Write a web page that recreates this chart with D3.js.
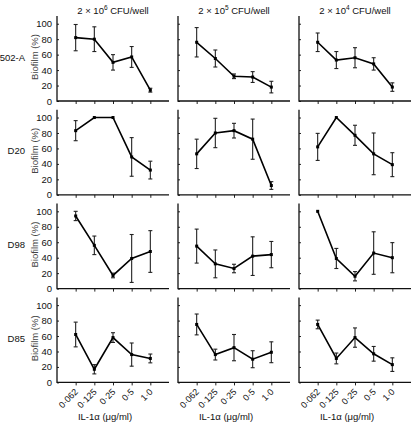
<!DOCTYPE html>
<html><head><meta charset="utf-8">
<script src="https://cdn.jsdelivr.net/npm/d3@7"></script>
<style>body{margin:0;background:#fff}svg{display:block}text{font-family:"Liberation Sans",Arial,Helvetica,sans-serif}</style>
</head><body><svg id="c" width="412" height="423"></svg>
<script>
const doses = ["0·062", "0·125", "0·25", "0·5", "1·0"];
const strains = ["502-A", "D20", "D98", "D85"];
const inoculumExp = ["6", "5", "4"];
const yTicks = [0, 20, 40, 60, 80, 100];

// means per strain: one array per inoculum column (10^6, 10^5, 10^4)
const mean502A = [[82, 80, 50, 57, 14], [76, 55, 32, 31, 18], [76, 53, 56, 48, 18]];
const err502A  = [[17, 16, 10, 13.5, 2.5], [19, 11, 3, 7, 7.5], [12, 11, 13, 8, 5.5]];
const meanD20  = [[83, 100, 100, 49, 32], [53, 80, 83, 72, 12], [62, 100, 77, 53, 39]];
const errD20   = [[13, 0, 0, 25, 11.5], [19, 19, 9.5, 26, 5], [17.5, 0, 13, 27, 15.5]];
const meanD98  = [[94, 56, 17, 39, 48], [55, 32, 26, 42, 44], [100, 39, 16, 46, 40]];
const errD98   = [[6, 12, 3, 31, 27], [22, 18, 5.5, 25, 17], [0, 13, 6, 27.5, 19.5]];
const meanD85  = [[62, 17, 58, 36, 31], [75, 36, 45, 30, 39], [75, 31, 58, 37, 23]];
const errD85   = [[16, 6, 6.3, 15, 5.7], [13.5, 7, 17, 11, 13.5], [5.6, 7, 12.5, 9.5, 8.8]];

const means = [mean502A, meanD20, meanD98, meanD85];
const errs = [err502A, errD20, errD98, errD85];

const FONT = "Liberation Sans, Arial, Helvetica, sans-serif";
const svg = d3.select("#c");
const colX = [57, 178, 299];
const panelW = 112;
const rowBottom = [101, 194.8, 288.6, 382.4];
const panelH = 85;

// column titles
inoculumExp.forEach((e, c) => {
  const t = svg.append("text").attr("x", colX[c] + panelW / 2).attr("y", 14)
    .attr("text-anchor", "middle").attr("font-size", 9.5).attr("fill", "#111").attr("font-family", FONT);
  t.append("tspan").text("2 × 10");
  t.append("tspan").attr("font-size", 6.5).attr("dy", -4).text(e);
  t.append("tspan").attr("dy", 4).text(" CFU/well");
});

strains.forEach((s, r) => {
  const y = d3.scaleLinear().domain([0, 110]).range([rowBottom[r], rowBottom[r] - panelH]);
  const midY = rowBottom[r] - 44;
  svg.append("text").attr("x", 25).attr("y", midY + 3.5).attr("text-anchor", "end")
    .attr("font-size", 9.5).attr("fill", "#111").attr("font-family", FONT).text(s);
  svg.append("text").attr("transform", `translate(38,${midY}) rotate(-90)`)
    .attr("text-anchor", "middle").attr("font-size", 9.5).attr("fill", "#444")
    .attr("font-family", FONT).text("Biofilm (%)");

  inoculumExp.forEach((e, c) => {
    const x = d3.scalePoint().domain(doses).range([colX[c], colX[c] + panelW]).padding(1);
    const g = svg.append("g");
    // y axis
    const ya = d3.axisLeft(y).tickValues(yTicks).tickSize(-2).tickPadding(5)
      .tickFormat(c === 0 ? d3.format("d") : () => "");
    const yg = g.append("g").attr("transform", `translate(${colX[c]},0)`).call(ya)
      .attr("font-family", FONT);
    yg.select(".domain").remove();
    yg.selectAll("text").attr("font-size", 9.5).attr("fill", "#111");
    yg.selectAll("line").attr("stroke", "#222");
    // x axis (ticks only, labels drawn separately)
    const xa = d3.axisBottom(x).tickSize(3).tickFormat(() => "");
    const xg = g.append("g").attr("transform", `translate(0,${rowBottom[r]})`).call(xa);
    xg.select(".domain").remove();
    xg.selectAll("line").attr("stroke", "#222");
    if (r === 3) {
      g.selectAll("text.xl").data(doses).enter().append("text")
        .attr("class", "xl")
        .attr("transform", d => `translate(${x(d) + 3},${rowBottom[r] + 10}) rotate(-45)`)
        .attr("text-anchor", "end").attr("font-size", 9).attr("fill", "#111")
        .attr("font-family", FONT).text(d => d);
    }
    // axis lines (L shape)
    g.append("path")
      .attr("d", `M${colX[c]},${rowBottom[r] - panelH}V${rowBottom[r]}H${colX[c] + panelW}`)
      .attr("fill", "none").attr("stroke", "#111").attr("stroke-width", 1.3);

    const m = means[r][c], er = errs[r][c];
    const pts = doses.map((d, i) => ({ d, v: m[i], e: er[i] }));
    // error bars
    const eb = g.append("g").attr("stroke", "#222").attr("stroke-width", 1.1);
    pts.filter(p => p.e > 0).forEach(p => {
      const cx = x(p.d), y1 = y(p.v + p.e), y2 = y(Math.max(0, p.v - p.e));
      eb.append("line").attr("x1", cx).attr("x2", cx).attr("y1", y1).attr("y2", y2);
      eb.append("line").attr("x1", cx - 2).attr("x2", cx + 2).attr("y1", y1).attr("y2", y1);
      eb.append("line").attr("x1", cx - 2).attr("x2", cx + 2).attr("y1", y2).attr("y2", y2);
    });
    // line
    g.append("path").datum(pts)
      .attr("d", d3.line().x(p => x(p.d)).y(p => y(p.v)))
      .attr("fill", "none").attr("stroke", "#000").attr("stroke-width", 1.6);
    // markers
    g.selectAll("rect.m").data(pts).enter().append("rect")
      .attr("x", p => x(p.d) - 1.5).attr("y", p => y(p.v) - 1.5)
      .attr("width", 3).attr("height", 3).attr("fill", "#000");
  });
});

// x-axis titles
colX.forEach(cx => {
  svg.append("text").attr("x", cx + panelW / 2 - 8).attr("y", 420).attr("text-anchor", "middle")
    .attr("font-size", 9.5).attr("fill", "#111").attr("font-family", FONT).text("IL-1α (μg/ml)");
});
</script></body></html>
